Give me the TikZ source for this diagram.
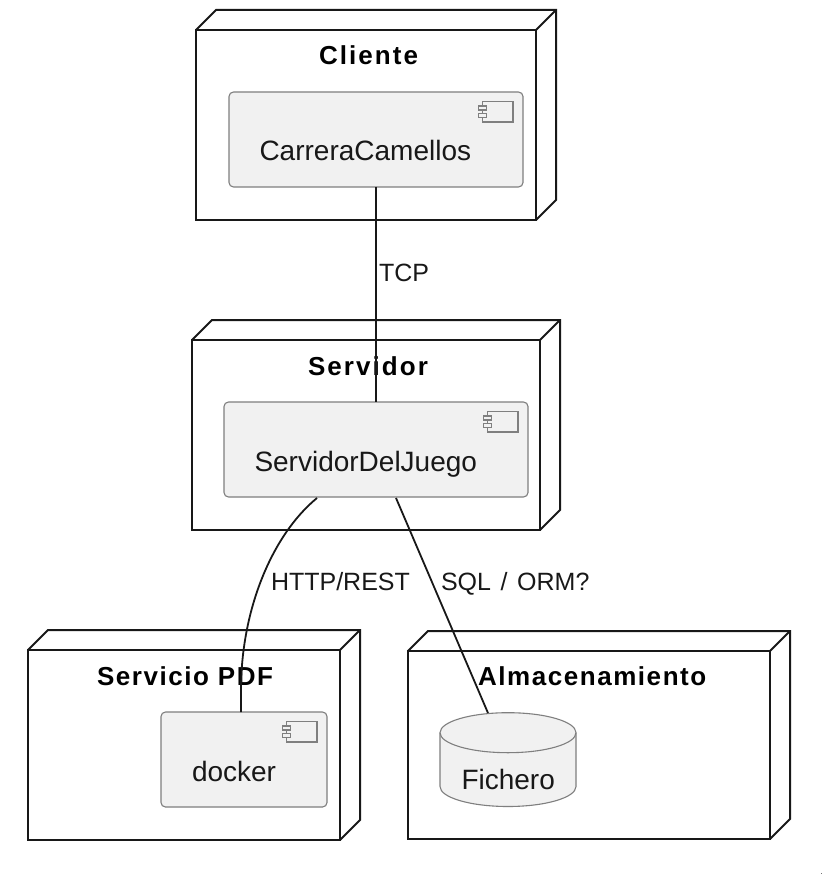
\documentclass[tikz,border=0pt]{standalone}
\usepackage{fontspec}
\setmainfont{Liberation Sans}
\newfontfamily\titlefont[LetterSpace=6]{Liberation Sans Bold}
\usetikzlibrary{calc}
\definecolor{ink}{HTML}{181818}
\definecolor{compfill}{HTML}{F1F1F1}
\definecolor{compline}{HTML}{7F7F7F}
\tikzset{
  x=1pt,y=-1pt,
  frontbox/.style={draw=ink,line width=2pt,fill=white,inner sep=0pt,outer sep=0pt,anchor=north west},
  depthline/.style={draw=ink,line width=2pt,line join=miter},
  compbox/.style={draw=compline,line width=1.1pt,fill=compfill,rounded corners=4.5pt,inner sep=0pt,outer sep=0pt,anchor=north west,minimum height=95pt},
  iconline/.style={draw=compline,line width=1.1pt,fill=compfill},
  nodetitle/.style={anchor=base west,inner sep=0pt,outer sep=0pt,text=black,font=\titlefont\fontsize{26}{30}\selectfont},
  complabel/.style={anchor=base west,inner sep=0pt,outer sep=0pt,text=ink,font=\fontsize{28}{32}\selectfont},
  edgelabel/.style={anchor=base west,inner sep=0pt,outer sep=0pt,text=ink,font=\fontsize{25}{29}\selectfont},
  conn/.style={draw=ink,line width=1.8pt},
}
\newcommand{\deploybox}[5]{% name, x, y, w, h
  \node[frontbox,minimum width=#4pt,minimum height=#5pt] (#1) at (#2,#3) {};
  \draw[depthline] (#1.north west) -- ++(20,-20) -- ++(#4,0) -- ++(0,#5) -- (#1.south east);
  \draw[depthline] (#1.north east) -- ++(20,-20);
}
\newcommand{\compicon}[1]{% component north east
  \draw[iconline] ($(#1.north east)+(-40.5,9.5)$) rectangle ++(30.5,20.5);
  \draw[iconline] ($(#1.north east)+(-44.5,14)$) rectangle ++(8,4);
  \draw[iconline] ($(#1.north east)+(-44.5,21.5)$) rectangle ++(8,4);
}
\begin{document}
\begin{tikzpicture}
\useasboundingbox (0,0) rectangle (822,874);
\deploybox{cliente}{196}{30}{340}{190}
\deploybox{servidor}{192}{340}{348}{190}
\deploybox{pdf}{28}{650}{312}{190}
\deploybox{almacen}{408}{651}{362}{188}

\node[compbox,minimum width=294pt] (carrera) at (229,92) {};
\compicon{carrera}
\node[compbox,minimum width=304pt] (juego) at (224,402) {};
\compicon{juego}
\node[compbox,minimum width=166pt] (docker) at (161,712) {};
\compicon{docker}

\draw[draw=compline,line width=1.1pt,fill=compfill]
  (440,732.7) arc[start angle=180,end angle=0,x radius=68,y radius=-20]
  -- (576,786.5) arc[start angle=0,end angle=180,x radius=68,y radius=20] -- cycle;
\draw[draw=compline,line width=1.1pt] (440,732.7) arc[start angle=180,end angle=0,x radius=68,y radius=20];
\coordinate (fichero) at (488,713);

\node[nodetitle] (tcliente) at (319,65) {\addfontfeature{LetterSpace=8}Cliente};
\node[nodetitle] (tservidor) at (308,375) {\addfontfeature{LetterSpace=8}Servidor};
\node[nodetitle] (tpdf) at (97,685) {Servicio PDF};
\node[nodetitle] (talmacen) at (478,685) {Almacenamiento};

\node[complabel] (lcarrera) at (259.5,161) {CarreraCamellos};
\node[complabel] (ljuego) at (254.5,471) {ServidorDelJuego};
\node[complabel] (ldocker) at (192,781) {docker};
\node[complabel] (lfichero) at (461.5,789) {Fichero};

\coordinate (httpstart) at ($(juego.south west)+(93,1)$);
\coordinate (sqlstart) at ($(juego.south west)+(172,1)$);
\coordinate (dockertop) at ($(docker.north west)+(80,0)$);
\draw[conn] (carrera.south) -- (juego.north);
\draw[conn] (httpstart) .. controls (272,535) and (241,610) .. (241,690) -- (dockertop);
\draw[conn] (sqlstart) -- (fichero);

\node[edgelabel] (ltcp) at (379,281) {TCP};
\node[edgelabel] (lhttp) at (271,590) {HTTP/REST};
\node[edgelabel] (lsql) at (441,590) {\spaceskip=9.6pt\relax SQL / ORM?};
\fill[ink!60] (820.8,872.6) rectangle (821.8,873.6);
\end{tikzpicture}
\end{document}
